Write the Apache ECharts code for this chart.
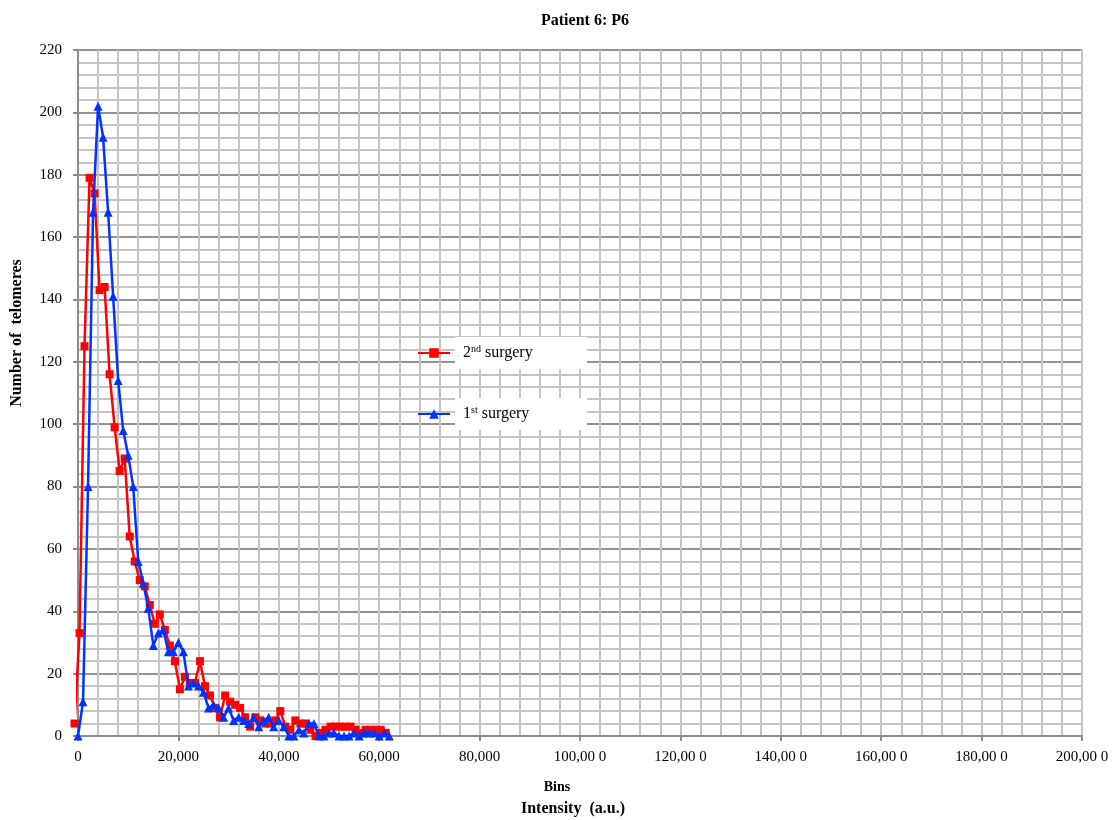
<!DOCTYPE html>
<html><head><meta charset="utf-8">
<script src="https://cdn.jsdelivr.net/npm/echarts@6/dist/echarts.min.js"></script>
<style>html,body{margin:0;padding:0;background:#fff}#c{width:1113px;height:820px}</style>
</head><body><div id="c"></div>
<script>
// Bin positions (intensity, a.u.)
const redX = [-700,300,1300,2300,3300,4300,5300,6300,7300,8300,9300,10300,11300,12300,13300,14300,15300,16300,17300,18300,19300,20300,21300,22300,23300,24300,25300,26300,27300,28300,29300,30300,31300,32300,33300,34300,35300,36300,37300,38300,39300,40300,41300,42300,43300,44300,45300,46300,47300,48300,49300,50300,51300,52300,53300,54300,55300,56300,57300,58300,59300,60300,61300];
const redY = [4,33,125,179,174,143,144,116,99,85,89,64,56,50,48,42,36,39,34,29,24,15,19,17,17,24,16,13,9,6,13,11,10,9,6,3,6,5,4,4,5,8,3,2,5,4,4,2,0,1,2,3,3,3,3,3,2,1,2,2,2,2,1];
const blueX = [0,1000,2000,3000,4000,5000,6000,7000,8000,9000,10000,11000,12000,13000,14000,15000,16000,17000,18000,19000,20000,21000,22000,23000,24000,25000,26000,27000,28000,29000,30000,31000,32000,33000,34000,35000,36000,37000,38000,39000,40000,41000,42000,43000,44000,45000,46000,47000,48000,49000,50000,51000,52000,53000,54000,55000,56000,57000,58000,59000,60000,61000,62000];
const blueY = [0,11,80,168,202,192,168,141,114,98,90,80,56,49,41,29,33,34,27,27,30,27,16,17,16,14,9,10,9,6,9,5,6,5,4,6,3,5,6,3,5,3,0,0,2,1,4,4,0,0,1,1,0,0,0,1,0,1,1,1,0,1,0];
const xTickLabels = ['0','20,000','40,000','60,000','80,000','100,00 0','120,00 0','140,00 0','160,00 0','180,00 0','200,00 0'];
const seriesNames = ['2nd surgery','1st surgery'];

const FF = '"Liberation Serif", "DejaVu Serif", serif';
const zip = (xs, ys) => xs.map((x, i) => [x, ys[i]]);

const chart = echarts.init(document.getElementById('c'), null, {renderer: 'canvas'});
const legendText = {
  fontFamily: FF, fontSize: 16, color: '#000', backgroundColor: '#fff',
  width: 112, lineHeight: 18, padding: [7, 12, 7, 8],
  rich: {
    n: {fontFamily: FF, fontSize: 16, color: '#000', lineHeight: 18},
    s: {fontFamily: FF, fontSize: 10, color: '#000', lineHeight: 10, verticalAlign: 'top'}
  }
};
const legendFmt = name => name === '2nd surgery' ? '{n|2}{s|nd}{n| surgery}' : '{n|1}{s|st}{n| surgery}';

chart.setOption({
  animation: false,
  backgroundColor: '#fff',
  title: {
    text: 'Patient 6: P6', left: 580, top: 8, textAlign: 'center',
    textStyle: {fontFamily: FF, fontSize: 16, fontWeight: 'bold', color: '#000'}
  },
  grid: {left: 78, top: 50, width: 1004, height: 686, containLabel: false},
  legend: [
    {data: [seriesNames[0]], left: 417, top: 337, padding: 0, itemWidth: 32, itemHeight: 12,
     selectedMode: false, textStyle: legendText, formatter: legendFmt},
    {data: [seriesNames[1]], left: 417, top: 398, padding: 0, itemWidth: 32, itemHeight: 12,
     selectedMode: false, textStyle: legendText, formatter: legendFmt}
  ],
  xAxis: {
    type: 'value', min: 0, max: 200000, interval: 20000,
    axisLine: {show: true, lineStyle: {color: '#8c8c8c', width: 2}},
    axisTick: {show: true, length: 5, lineStyle: {color: '#8c8c8c', width: 2}},
    axisLabel: {margin: 14, color: '#000', fontFamily: FF, fontSize: 15,
      formatter: v => xTickLabels[Math.round(v / 20000)]},
    splitLine: {show: true, lineStyle: {color: '#c4c4c4', width: 2}},
    minorTick: {show: false, splitNumber: 5},
    minorSplitLine: {show: true, lineStyle: {color: '#c4c4c4', width: 2}}
  },
  yAxis: {
    type: 'value', min: 0, max: 220, interval: 20,
    axisLine: {show: true, lineStyle: {color: '#8c8c8c', width: 2}},
    axisTick: {show: true, length: 5, lineStyle: {color: '#8c8c8c', width: 2}},
    axisLabel: {margin: 16, color: '#000', fontFamily: FF, fontSize: 15},
    splitLine: {show: true, lineStyle: {color: '#939393', width: 2}},
    minorTick: {show: false, splitNumber: 5},
    minorSplitLine: {show: true, lineStyle: {color: '#c4c4c4', width: 2}}
  },
  graphic: [
    {type: 'text', x: 17, y: 333, rotation: Math.PI / 2, z: 10,
     style: {text: 'Number of  telomeres', font: 'bold 16px ' + FF, fill: '#000', align: 'center', verticalAlign: 'middle'}},
    {type: 'text', x: 557, y: 787, z: 10,
     style: {text: 'Bins', font: 'bold 14px ' + FF, fill: '#000', align: 'center', verticalAlign: 'middle'}},
    {type: 'text', x: 573, y: 809, z: 10,
     style: {text: 'Intensity  (a.u.)', font: 'bold 16px ' + FF, fill: '#000', align: 'center', verticalAlign: 'middle'}}
  ],
  series: [
    {name: seriesNames[0], type: 'line', data: zip(redX, redY), clip: false,
     symbol: 'rect', symbolSize: 8, showSymbol: true,
     lineStyle: {color: '#ff0000', width: 2.5}, itemStyle: {color: '#ff0000'}, z: 3},
    {name: seriesNames[1], type: 'line', data: zip(blueX, blueY), clip: false,
     symbol: 'triangle', symbolSize: 9, showSymbol: true,
     lineStyle: {color: '#0033ff', width: 2.5}, itemStyle: {color: '#0033ff'}, z: 4}
  ]
});
</script></body></html>
